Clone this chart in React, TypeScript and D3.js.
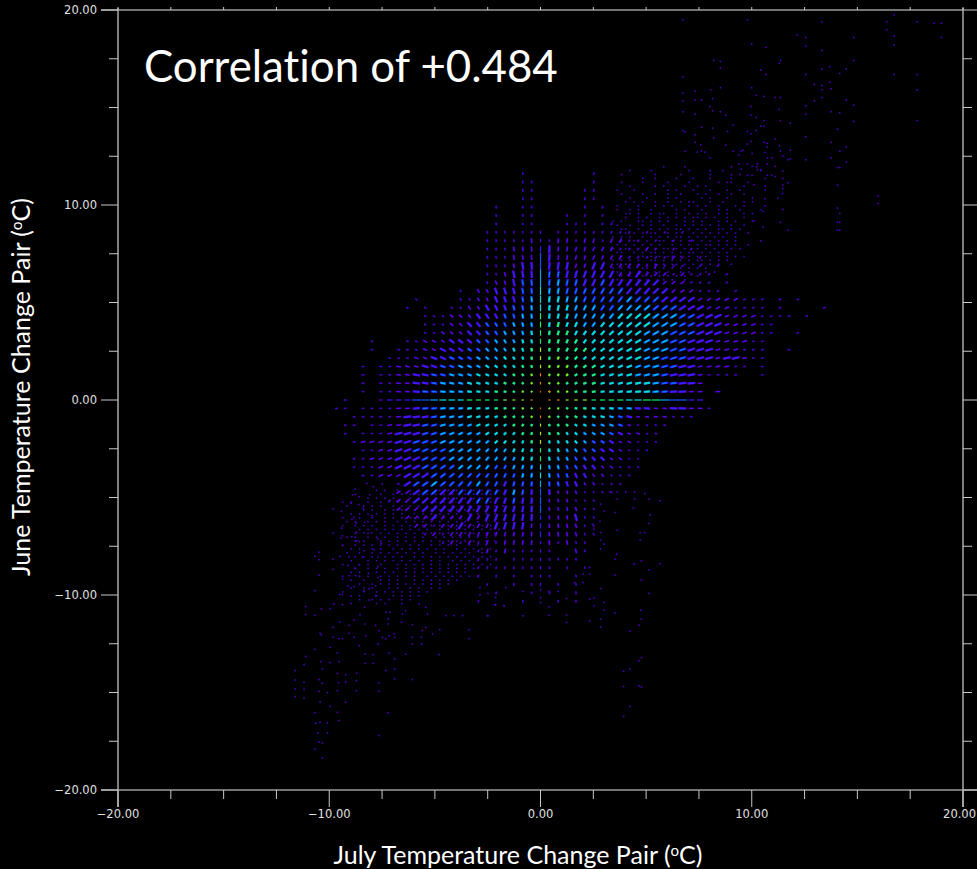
import React from "react";
import * as d3 from "d3";

const WIDTH = 977;
const HEIGHT = 869;
const xTicks = d3.range(-20, 20.01, 2.5);
const yTicks = d3.range(-20, 20.01, 2.5);
const xLabels = [-20, -10, 0, 10, 20];
const yLabels = [20, 10, 0, -10, -20];
const TITLE = "Correlation of +0.484";
const LATTICE_X = 0.42;
const LATTICE_Y = 0.43;
const SPECK_STEP = 0.2;

// intensity class per lattice node: rows from +27 to -24, "negative columns|zero and positive columns"
const topRow = 27;
const latticeRows = [
  "1.|......1",
  "11|......1",
  "11|.....11",
  "11|.....11",
  "1..11|.....1.1",
  "1..11|...1.1.1",
  "1..11|...111.11",
  "111111|1.111111111.1.1.1",
  "111112|112212212211.1.1.1",
  "111222|23222222211121.1.1",
  "111222|33222222221111121.1",
  "111233|33332233222212111.1.1",
  "112333|44433333322322212111.1",
  "122344|44544334333333222111.1",
  "1.2233344|555444444433333222111.1",
  "1....112233345|56655444445444333322222111.1.1",
  "1.1..1122333445|5666555445555444333222111" + "1.1....1",
  "1112223334455|66665555566665554433322221111.1",
  "1112233444555|667665566666655544333222211",
  "1122233445556|677766666666555444333222211..1",
  "1...112223334455566|67777666666655544333222211",
  "1..1112233344555667|77777766666655544333222111..1",
  "11122334445556667|77877666666655444333233211",
  "1.112223344555666677|788877766665554433222211.1",
  "1.112233445556666778|88887776666555433321111..1",
  "1.112233455566667778|8887777666666544332",
  "1.112234455566677788|9988777666666543322.2",
  "1...122233455566667778|9887776666556643322",
  "11.11112234455566677788|988777666553322332" + "21",
  "111112333455566667778|887776665432222111",
  "11.1122334455556666777|777766555421111",
  "1.11123334455555666677|77766555432211",
  "122223344455555566667|76666544322111",
  "11223344445555555666|6665544332111",
  "112223334445555555566|665544332211",
  "111223334444555544555|555443322111",
  "11222333444444444455|55443322111",
  "1344544445443444|4443322111",
  "2234433444443543|332221111",
  "12233333334433433|3222111",
  "2223333333333333|3222211",
  "222322232333333|2222311",
  "22122322233332|2222211",
  "1212222222222|2222211",
  "12121212222|121211",
  "1212111|11..21",
  "111.111|11111",
  "1111111|11.1.1",
  "1.1.1.1|11..1",
  ".1..1.1|1.1.1",
  "..1...1|.1..1",
  "1....1.|..1.1",
];

// irregular single-pixel speckle over the upper lobe: origin (3.4, 12.0), one char per SPECK_STEP
const neOrigin: [number, number] = [3.4, 12.0];
const neSpeck = [
  "............#....#..........#.....#.....",
  "....#....#........#....#..#........#....",
  "..#.......#.....#......#......#.........",
  ".......#..#....#...#...#....#.......#...",
  "..#....#.....#....#......#.##...#.......",
  "....#.....#.#....#..#.#........#....#...",
  ".#...#.......#.#...#...#...#..#.....#...",
  "..#....#..#..#..#...#.#..#..#..#........",
  "....#...#....#.#.....#.#...#.....#.....#",
  "...#.#.#..#..#..#.##...#..#....#.#......",
  ".#....#...#.#.#...#.#.#..#...#.#....#...",
  ".#..#.#..#.....#.#...#...#.#..#....#....",
  "...##.#..#.##..#..#.#.#..#.#...#.#......",
  "...#..#.#..#.#.#.#.##.#.#..#...#........",
  "#.#...##.#.#.#...#.#.#...#.#.#...#......",
  ".#..#..#.#..#..#.#.#.#.#.#..#..#........",
  "..##..#..#.#.#.##.#.#.#..##.#.#.........",
  "...#.#.#.##..#.#...#.#.#.#.#.#..#.......",
  "#.#.#..#.#.#.#.##.#.#.#.#.#..#..........",
  "..#..##.#..##.#.#.##.#.#.#.#.#.....#....",
  ".#.#.#.#.#.#..#.#.#.#.##.#.#.#..#.......",
  "#..##.#.#.#.##.#.#..#.#.#.#.#.#.........",
  ".##..#.#.##.#.#.#.##.#.#.#.#............",
  "..#.#.##.#.#.##.#.#.#.#..#.#.#.#........",
  "#.#.#.#..##.#.#.#.#.##.#.#.#............",
  ".#.##.#.#.#.#.##.#.#.#.#.#..#...........",
  "#.#.#..##.#.#.#.#.#.#.#.................",
  ".#..#.#.#.##.#..#.#...#.#...............",
  "..#.#..#.#.#.#.#.#..#...................",
  ".#..#.#.#...#.#..#......................",
];

// irregular speckle over the lower lobe: origin (-9.6, -4.6)
const swOrigin: [number, number] = [-9.6, -4.6];
const swSpeck = [
  ".........#.#..#..#.#.#.##.#.#.#.#.#.#.#.",
  "....#.....#..#.#.#.#.#.#.#.#..#.#.#.#...",
  ".......#.#.#.#...#.#.#.#.##.#.#.#.#.#.#.",
  ".#.#...#..#.#.#.#.#.#..#.#.#.#.#.#..#...",
  "..#...#.#.#..#.#.#.#.#.#.#.#.#.#.#.#.#.#",
  "......#.#..#.#.##.#.#.#.#.#.#.#.#..#.#..",
  "...#.#.#.#.#.#.#..#.#.#.#.#.#..#.#.#.#..",
  ".#...#..#..#.#.#.#.#.#.#.#.#.#.#.#.#....",
  "..#.#..#.#.#..#.#.#.#.#.#.#.#.#..#.#.#..",
  ".#..#.#.#..#.#.#.#..#.#.#.#.#.#.#.#.#...",
  ".....#.#.#.#.#.#.#.#.#..#.#.#.#.#.#.#.#.",
  "....#..#..#.#.#.#.#.#.#.#.#.#.#.#..#.#..",
  "..#.#..#.#.#..#.#.#.#..#.#.#.#.#.#.#....",
  "....#.#...#.#.#.#.#.#.#.#.#.#.#.#..#.#..",
  ".#..#.#.#.#.#.#..#.#..#.#.#.#..#.#.#....",
  "...#.#..#.#..#.#.#.#.#.#.#..#.#.#.#.#...",
  "..#..#..#.#.#.#.#.#.#..#.#.#.#.#..#.....",
  "....#.#.#..#.#.#..#.#.#.#.#.#.#.#.#.#...",
  "...#...#.#.#.#.#.#.#..#.#..#.#.#.#......",
  ".#...#.#..#...#.#.#.#.#.#.#.#.#.#.#.#...",
  "....#..#.#.#..#.#.#.#.#.#.#.#.#.#.......",
  "...#.#...#.#.#..#.#.#.#.#.#.#.#.........",
  ".#...#.#..#.#.#.#.#..#.#.#.#.#.#.#......",
  "...#..#...#.#.#...#.#.#.#.#.#...........",
  ".....#..#.#.#.#.#.#.#.#.#.#.............",
  "...#..#.#...#.#..#.#..#.#...............",
  ".#....#..#.#.#.#.#.#.#..................",
  "...#.#...#...#.#.#.#....................",
  ".....#..#.#.#..#.#......................",
  "...#.....#.#...#.......................",
];

// isolated points, read one by one
const sparseNE: [number, number][] = [
  [6.71,19.54],[9.76,19.54],[13.29,19.43],[16.35,19.43],[16.71,19.78],[17.8,19.43],[18.59,19.36],[18.94,19.36],[16.35,19.02],[16.71,18.7],[18.94,18.63],[12.11,18.75],[12.52,18.63],[14.79,18.63],[16.71,18.25],[12.52,18.19],[9.96,18.3],[10.64,18.12],[13.29,17.96],[8.16,17.45],[8.48,17.4],[8.48,17.07],[11.32,17.45],[11.27,17.3],[14.79,17.45],[10.39,16.96],[10.64,16.73],[13.29,17.01],[13.65,17.13],[14.44,17.01],[14.13,16.78],[12.52,16.73],[16.71,16.73],[17.8,16.73],[6.71,16.61],[12.93,16.22],[13.65,16.34],[13.29,16.17],[13.29,15.95],[13.72,16.0],[17.8,15.95],[9.96,16.05],[8.48,16.05],[8.02,15.95],[7.28,15.88],[6.71,15.78],[10.18,15.66],[10.55,15.61],[11.07,15.55],[11.32,15.55],[13.29,15.55],[14.44,15.43],[12.93,15.38],[7.28,15.43],[7.59,15.43],[8.11,15.49],[6.71,15.38],[14.79,15.16],[12.52,15.13],[9.93,15.09],[7.99,15.09],[11.27,14.94],[8.11,14.87],[8.48,14.82],[13.72,14.82],[14.13,14.77],[12.52,14.7],[6.71,14.82],[7.28,14.7],[8.73,14.65],[9.93,14.65],[10.18,14.53],[10.55,14.37],[11.32,14.37],[11.79,14.24],[14.79,14.32],[17.8,14.37],[7.59,14.02],[8.11,13.98],[9.09,14.15],[10.39,14.08],[10.55,14.08],[14.02,13.93],[10.18,13.86],[9.76,13.81],[9.93,13.69],[6.71,13.84],[6.81,13.79],[8.82,13.81],[7.28,13.64],[8.16,13.47],[12.52,13.54],[11.07,13.42],[9.93,13.3],[10.55,13.25],[10.7,13.2],[11.27,13.08],[13.72,13.25],[8.73,13.11],[7.55,13.13],[9.76,13.16],[7.28,13.25],[10.7,13.02],[14.44,13.02],[9.09,12.8],[9.55,12.85],[9.47,12.8],[10.59,12.73],[11.32,12.8],[11.79,12.85],[14.13,12.8],[6.81,12.8],[7.39,12.75],[7.59,12.8],[7.75,12.75],[9.36,12.6],[9.98,12.68],[10.7,12.46],[10.91,12.46],[11.43,12.55],[13.72,12.46],[11.79,12.41],[11.68,12.36],[12.52,12.36],[7.99,12.46],[14.44,12.24],[14.02,11.96],[14.13,11.96],[14.02,11.06],[15.94,10.5],[15.94,10.12],[14.02,9.88],[14.13,9.61],[14.02,9.15],[14.13,9.15],[14.02,8.75],[14.13,8.75],[11.32,9.15],[11.68,8.75],[11.43,9.81],[11.43,11.4],[11.43,11.79],[11.68,11.18],[11.43,11.06],[11.43,10.89],[11.43,10.63],[10.59,10.36],[10.5,9.71],[10.5,8.92],[10.07,9.23],[10.07,11.08],[9.98,11.57],[9.76,11.57],[10.7,11.57],[10.91,11.57],[11.07,11.5],[10.7,12.14],[10.23,12.14],[11.07,12.02],[10.39,11.85],[10.23,11.85],[9.98,12.02],[9.76,12.14],[9.36,12.14],[9.47,11.88],[9.0,11.59],
];

const sparseSW: [number, number][] = [
  [-8.26,-4.24],[-7.95,-4.41],[-7.52,-4.27],[-8.81,-4.53],[-8.94,-4.82],[-8.62,-4.92],[-8.12,-4.82],[-9.0,-5.25],[-9.86,-5.54],[-9.46,-5.67],[-8.64,-5.33],[-8.42,-5.52],[-8.86,-5.98],[-8.0,-5.89],[-8.96,-6.07],[-8.75,-6.27],[-8.36,-6.24],[-9.45,-6.53],[-9.86,-6.78],[-9.49,-7.04],[-9.41,-6.92],[-8.75,-6.75],[-8.39,-6.78],[-8.03,-6.78],[-7.73,-7.09],[-8.97,-6.97],[-8.74,-7.18],[-8.62,-7.21],[-7.57,-7.31],[-9.41,-7.43],[-8.39,-7.69],[-7.91,-7.64],[-9.52,-7.98],[-10.52,-8.15],[-10.72,-7.98],[-10.52,-7.76],[-9.86,-8.12],[-9.86,-8.65],[-10.52,-8.94],[-9.1,-8.0],[-9.15,-8.44],[-8.62,-8.41],[-8.83,-8.58],[-8.47,-8.03],[-7.73,-8.03],[-7.73,-8.51],[-8.18,-8.85],[-9.41,-9.14],[-9.1,-8.97],[-8.78,-8.97],[-7.73,-9.06],[-9.15,-9.5],[-8.86,-9.53],[-10.72,-9.74],[-8.15,-9.64],[-8.39,-9.74],[-7.84,-9.5],[-9.54,-9.94],[-9.41,-9.94],[-7.84,-10.0],[-9.41,-10.46],[-11.15,-10.56],[-11.15,-10.97],[-10.41,-10.68],[-10.0,-10.68],[-9.81,-10.42],[-10.72,-11.0],[-8.58,-10.97],[-8.15,-10.22],[-8.36,-10.59],[-8.86,-11.24],[-8.36,-11.45],[-9.86,-11.62],[-9.54,-11.35],[-9.1,-11.52],[-10.47,-11.93],[-10.41,-12.01],[-9.86,-12.13],[-9.57,-12.2],[-9.41,-12.2],[-9.1,-11.93],[-8.86,-12.13],[-8.31,-12.05],[-7.84,-11.52],[-7.68,-11.79],[-8.62,-12.56],[-10.0,-12.65],[-10.72,-12.75],[-9.65,-12.94],[-11.15,-13.11],[-10.44,-13.38],[-10.0,-13.43],[-9.57,-13.38],[-8.34,-12.99],[-7.96,-13.02],[-8.34,-13.47],[-7.96,-13.47],[-11.23,-13.53],[-11.65,-13.84],[-10.36,-13.76],[-11.65,-14.32],[-11.23,-14.44],[-10.52,-14.3],[-10.36,-14.49],[-9.65,-13.98],[-9.26,-14.05],[-8.74,-13.98],[-9.6,-14.46],[-9.26,-14.42],[-8.75,-14.35],[-7.68,-14.47],[-11.65,-14.78],[-11.23,-14.8],[-10.52,-14.9],[-10.12,-14.97],[-9.65,-14.87],[-8.75,-14.87],[-7.68,-14.9],[-11.65,-15.17],[-11.23,-15.24],[-9.26,-15.46],[-10.47,-15.45],[-10.0,-15.67],[-10.72,-16.01],[-9.65,-15.98],[-7.25,-16.01],[-10.47,-16.49],[-10.68,-16.54],[-10.12,-16.52],[-9.57,-16.4],[-10.57,-17.04],[-10.12,-17.04],[-10.52,-17.5],[-10.36,-17.55],[-10.72,-17.86],[-10.36,-18.32],[-7.68,-17.17],[-7.36,-13.84],[-6.94,-13.24],[-6.94,-13.76],[-6.94,-14.27],[-6.1,-14.3],[-7.2,-12.94],[-7.52,-12.13],[-7.36,-12.22],[-7.2,-12.05],[-7.73,-12.47],[-6.94,-12.13],[-6.42,-13.0],[-4.84,-13.02],[-3.42,-11.74],[-3.42,-12.2],[-5.67,-12.47],[-6.1,-12.47],[-6.1,-12.13],[-5.67,-12.13],[-5.15,-11.96],[-4.81,-11.74],[-5.63,-11.79],[-5.47,-11.62],[-6.1,-11.48],[-6.62,-11.36],[-6.97,-11.96],[-7.24,-11.45],[-7.24,-11.19],[-7.36,-10.85],[-7.16,-10.85],[-6.57,-10.94],[-6.42,-10.77],[-5.39,-10.94],[-4.52,-11.02],[-4.13,-11.02],[-3.73,-11.02],[-2.55,-11.02],[-5.78,-10.42],[-5.47,-10.59],[-2.2,-10.46],[-1.76,-10.51],
];

const sparseSE: [number, number][] = [
  [3.24,-4.67],[3.6,-4.67],[4.0,-4.67],[4.42,-4.67],[4.9,-4.76],[3.6,-5.05],[4.42,-5.05],[5.1,-5.05],[5.62,-5.13],[2.81,-5.3],[2.97,-5.65],[3.49,-5.73],[4.36,-5.51],[5.15,-5.85],[2.42,-6.33],[2.78,-6.19],[5.1,-6.29],[2.5,-6.59],[2.81,-6.76],[3.6,-6.64],[4.68,-6.76],[4.9,-6.76],[4.68,-7.15],[2.81,-7.15],[2.97,-7.35],[2.81,-7.61],[3.57,-7.87],[3.49,-8.12],[4.39,-8.38],[4.74,-8.21],[5.62,-8.35],[5.1,-8.67],[3.49,-8.94],[2.81,-9.63],[4.74,-9.2],[5.1,-9.88],[2.29,-8.55],[2.29,-8.89],[1.98,-8.89],[1.98,-9.32],[1.58,-9.32],[2.29,-10.17],[2.5,-10.12],[2.97,-10.35],[2.5,-10.52],[2.97,-10.74],[3.49,-10.89],[4.71,-10.74],[4.74,-11.2],[2.81,-11.2],[2.29,-11.29],[2.81,-11.59],[4.63,-11.51],[4.2,-11.81],[4.74,-13.17],[4.63,-13.34],[4.2,-13.76],[3.9,-13.88],[3.9,-14.65],[4.63,-14.62],[4.74,-14.67],[4.2,-15.68],[3.9,-16.19],[1.2,-10.14],[1.2,-10.98],[1.2,-11.37],[0.37,-11.0],[0.37,-10.57],[-0.86,-11.03],[-2.52,-11.03],[-2.16,-10.46],[-1.76,-10.52],[-2.16,-10.09],[-0.03,-10.35],[-0.03,-10.09],[0.37,-9.75],[0.79,-9.78],[-0.03,-9.71],[-0.86,-9.78],[-2.9,-9.95],[-2.52,-9.88],[-2.9,-9.58],[-1.68,-9.58],
];

const x = d3.scaleLinear().domain([-20, 20]).range([118, 963]);
const y = d3.scaleLinear().domain([-20, 20]).range([790, 10]);
const heat = d3
  .scaleLinear<string>()
  .domain([0, 1, 2, 3, 4, 5, 6, 7, 8, 9])
  .range(["#300090", "#4800c8", "#5c00f0", "#2a18ff", "#0068ff", "#00b8ff", "#00e8c8", "#10f048", "#d8e800", "#ff5000"])
  .clamp(true);

function specks(rows: string[], origin: [number, number]) {
  return rows.flatMap((row, r) =>
    Array.from(row).flatMap((c, k) =>
      c === "#" ? [[origin[0] + k * SPECK_STEP, origin[1] - r * SPECK_STEP] as [number, number]] : []
    )
  );
}

const nodes = latticeRows.flatMap((row, r) => {
  const j = topRow - r;
  const [neg, pos] = row.split("|");
  const out: { i: number; j: number; v: number }[] = [];
  Array.from(neg).reverse().forEach((c, k) => {
    if (c !== ".") out.push({ i: -1 - k, j, v: +c });
  });
  Array.from(pos).forEach((c, k) => {
    if (c !== ".") out.push({ i: k, j, v: +c });
  });
  return out;
});

function Blob({ i, j, v }: { i: number; j: number; v: number }) {
  const cx = x(i * LATTICE_X);
  const cy = y(j * LATTICE_Y);
  const dx = cx - x(0);
  const dy = cy - y(0);
  const r = Math.hypot(dx, dy) || 1;
  const ux = dx / r;
  const uy = dy / r;
  const base = Math.min(8, 1.2 + r * 0.05);
  const k = v >= 3 ? 1 : v === 2 ? 0.6 : 0.35;
  const half = (base * k) / 2;
  const axis = i === 0 || j === 0;
  const w = axis ? 1.2 : v >= 3 ? 2.3 : 1.6;
  const seg = (h: number, sw: number, colour: string, key: string) => (
    <line
      key={key}
      x1={cx - ux * h}
      y1={cy - uy * h}
      x2={cx + ux * h}
      y2={cy + uy * h}
      stroke={colour}
      strokeWidth={sw}
    />
  );
  if (axis) return <g>{seg(half * 1.2, w, heat(v + 0.7), "a")}</g>;
  return (
    <g>
      {seg(half, w, heat(v >= 3 ? v - 1 : v), "a")}
      {v >= 3 && seg(half * 0.6, Math.max(1.2, w * 0.6), heat(v + 0.2), "b")}
    </g>
  );
}

export default function App() {
  const allSpecks = [
    ...specks(neSpeck, neOrigin),
    ...specks(swSpeck, swOrigin),
    ...sparseNE,
    ...sparseSW,
    ...sparseSE,
  ];
  const line = "#c8c8c8";
  const label = { fill: "#e0e0e0", fontFamily: "DejaVu Sans", fontSize: 11.5 } as const;
  const big = { fill: "#fff", fontFamily: "Lato", style: { fontVariantLigatures: "none" } } as const;
  return (
    <svg
      width={WIDTH}
      height={HEIGHT}
      style={{ position: "fixed", left: 0, top: 0, display: "block", background: "#000" }}
    >
      <g>
        {allSpecks.map(([a, b], n) => (
          <rect key={n} x={x(a)} y={y(b)} width={1.5} height={1.5} fill="#4e00d0" />
        ))}
      </g>
      <g>
        {nodes.map((n) => (
          <Blob key={`${n.i}_${n.j}`} {...n} />
        ))}
      </g>
      <g stroke={line} strokeWidth={1}>
        <line x1={101} x2={963} y1={y(20)} y2={y(20)} stroke="#e8e8e8" />
        <line x1={101} x2={977} y1={y(-20)} y2={y(-20)} stroke="#e8e8e8" />
        <line x1={x(-20)} x2={x(-20)} y1={8} y2={807} strokeWidth={1.5} stroke="#aaa" />
        <line x1={x(20)} x2={x(20)} y1={8} y2={807} strokeWidth={1.5} stroke="#aaa" />
        {xTicks.map((t) => {
          const major = t % 10 === 0;
          return (
            <g key={t}>
              <line x1={x(t)} x2={x(t)} y1={y(-20)} y2={y(-20) + (major ? 17 : 9)} />
              <line x1={x(t)} x2={x(t)} y1={y(20)} y2={y(20) - 3} />
            </g>
          );
        })}
        {yTicks.map((t) => {
          const major = t % 10 === 0;
          return (
            <g key={t}>
              <line x1={x(-20) - (major ? 17 : 9)} x2={x(-20)} y1={y(t)} y2={y(t)} />
              <line x1={x(20)} x2={x(20) + (major ? 14 : 9)} y1={y(t)} y2={y(t)} />
            </g>
          );
        })}
      </g>
      {yLabels.map((t) => (
        <text key={t} x={97} y={y(t) + 4} textAnchor="end" {...label}>
          {d3.format(".2f")(t).replace("-", "\u2212")}
        </text>
      ))}
      {xLabels.map((t) => (
        <text
          key={t}
          x={t === 20 ? 976 : x(t)}
          y={818}
          textAnchor={t === 20 ? "end" : "middle"}
          {...label}
        >
          {d3.format(".2f")(t).replace("-", "\u2212")}
        </text>
      ))}
      <text x={144} y={82} fontSize={43.8} {...big}>
        {TITLE}
      </text>
      <text x={518} y={864} textAnchor="middle" fontSize={25} {...big}>
        July Temperature Change Pair (<tspan dy={-8} fontSize={15}>o</tspan>
        <tspan dy={8}>C)</tspan>
      </text>
      <text transform="translate(30,387) rotate(-90)" textAnchor="middle" fontSize={25} {...big}>
        June Temperature Change Pair (<tspan dy={-8} fontSize={15}>o</tspan>
        <tspan dy={8}>C)</tspan>
      </text>
    </svg>
  );
}
